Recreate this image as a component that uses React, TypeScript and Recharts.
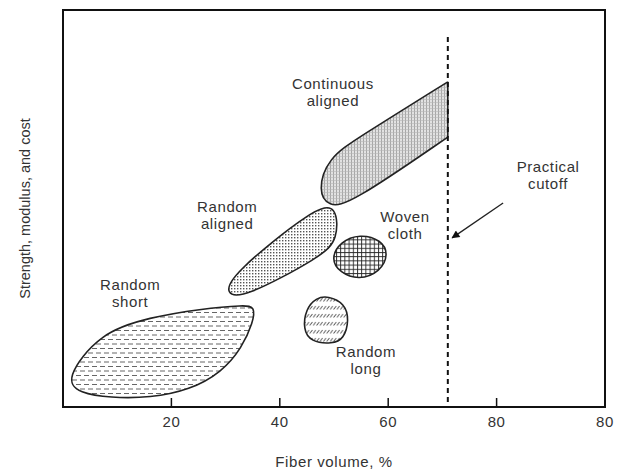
import { ScatterChart, Scatter, XAxis, YAxis, ReferenceArea } from "recharts";

const FONT = "'Liberation Sans', Arial, Helvetica, sans-serif";

// axis ticks (the last label really reads "80" in the source figure)
const xTicks = [20, 40, 60, 80, 100];
const xTickLabels = ["20", "40", "60", "80", "80"];
const tickMarks = [20, 40, 60, 80];

// blob outlines as B-spline control points [fiber volume %, relative property]
const randomShort = [
  [0.2, 6.8], [6.8, 18.8], [16.1, 22.6], [25.3, 24.7], [33.6, 25.7], [35.4, 25.2],
  [35.1, 21.4], [33.0, 14.9], [29.3, 8.8], [23.4, 4.3], [16.1, 2.3], [8.7, 2.3], [3.1, 3.5],
];
const randomAligned = [
  [46.5, 50.4], [50.6, 50.9], [50.7, 42.1], [47.8, 38.0], [33.0, 27.2], [30.1, 28.5], [30.8, 33.0],
];
const continuousAligned = [
  [71, 81.9], [71, 81.9], [71, 81.9], [54.4, 67.8], [48.9, 62.7], [47.0, 54.5],
  [49.0, 50.4], [53.0, 51.1], [71, 68.0], [71, 68.0], [71, 68.0],
];
const wovenCloth = [
  [60.1, 38.5], [58.7, 42.1], [54.8, 43.6], [51.1, 41.6], [49.4, 37.3], [51.1, 33.8], [54.6, 32.0], [58.5, 34.0],
];
const randomLong = [
  [48.9, 28.0], [52.0, 26.1], [52.8, 21.9], [51.8, 17.1], [49.7, 15.9], [45.7, 16.4], [44.3, 19.6], [44.8, 24.7], [46.7, 27.5],
];

const cutoffLine = [[71, 93.2], [71, 0]];
const cutoffArrow = [[81.2, 51.4], [71.8, 42.6]];

const labelX = [49.8, 30.3, 63.1, 12.4, 55.9, 89.5];
const labelY = [79.3, 48.2, 45.7, 28.6, 11.7, 58.4];
const labelLines = [
  ["Continuous", "aligned"],
  ["Random", "aligned"],
  ["Woven", "cloth"],
  ["Random", "short"],
  ["Random", "long"],
  ["Practical", "cutoff"],
];

const toPts = (arr: number[][]) => arr.map(([x, y]) => ({ x, y }));

const blobs = [
  { key: "short", pts: randomShort, fill: "url(#patShort)" },
  { key: "aligned", pts: randomAligned, fill: "url(#patAligned)" },
  { key: "continuous", pts: continuousAligned, fill: "url(#patContinuous)" },
  { key: "woven", pts: wovenCloth, fill: "url(#patWoven)" },
  { key: "long", pts: randomLong, fill: "url(#patLong)" },
];

const labels = labelX.map((x, i) => ({ x, y: labelY[i], lines: labelLines[i] }));

const Empty = () => <g />;

const TickMark = (p: any) => (
  <line x1={p.cx} y1={p.cy} x2={p.cx} y2={p.cy - 9} stroke="#111" strokeWidth={1.5} />
);

const LabelText = (p: any) => {
  const lines: string[] = p.payload.lines;
  return (
    <text textAnchor="middle" fontFamily={FONT} fontSize={15} letterSpacing={0.6} fill="#333">
      {lines.map((l, i) => (
        <tspan key={i} x={p.cx} y={p.cy + (i - (lines.length - 1) / 2) * 17 + 5}>
          {l}
        </tspan>
      ))}
    </text>
  );
};

export default function App() {
  return (
    <div style={{ position: "absolute", left: 0, top: 0 }}>
      <ScatterChart width={624} height={470} margin={{ top: 10, right: 19, left: 0, bottom: 33 }}>
        <defs>
          <pattern id="patShort" patternUnits="userSpaceOnUse" width="8" height="9">
            <rect width="8" height="9" fill="#fff" />
            <line x1="0" y1="2" x2="5" y2="2" stroke="#555" strokeWidth="0.9" />
            <line x1="4" y1="6.5" x2="8" y2="6.5" stroke="#555" strokeWidth="0.9" />
            <line x1="0" y1="6.5" x2="1" y2="6.5" stroke="#555" strokeWidth="0.9" />
          </pattern>
          <pattern id="patAligned" patternUnits="userSpaceOnUse" width="3" height="3">
            <rect width="3" height="3" fill="#fff" />
            <rect width="1.4" height="1.4" fill="#555" />
          </pattern>
          <pattern id="patContinuous" patternUnits="userSpaceOnUse" width="3" height="3">
            <rect width="3" height="3" fill="#e2e2e2" />
            <rect width="0.8" height="3" fill="#999" />
            <rect width="3" height="0.6" fill="#b5b5b5" />
          </pattern>
          <pattern id="patWoven" patternUnits="userSpaceOnUse" width="4.2" height="4.2">
            <rect width="4.2" height="4.2" fill="#fff" />
            <line x1="0" y1="0.5" x2="4.2" y2="0.5" stroke="#222" strokeWidth="0.9" />
            <line x1="0.5" y1="0" x2="0.5" y2="4.2" stroke="#222" strokeWidth="0.9" />
          </pattern>
          <pattern id="patLong" patternUnits="userSpaceOnUse" width="3.4" height="8">
            <rect width="3.4" height="8" fill="#fff" />
            <line x1="0.4" y1="5.5" x2="3" y2="2" stroke="#555" strokeWidth="0.9" />
          </pattern>
          <marker id="arrowHead" viewBox="0 0 10 10" refX="9" refY="5" markerWidth="11" markerHeight="8"
            markerUnits="userSpaceOnUse" orient="auto">
            <path d="M0,0 L10,5 L0,10 z" fill="#111" />
          </marker>
        </defs>

        <XAxis
          type="number"
          dataKey="x"
          domain={[0, 100]}
          allowDataOverflow
          ticks={xTicks}
          interval={0}
          tickFormatter={(v: number) => xTickLabels[xTicks.indexOf(v)]}
          axisLine={false}
          tickLine={false}
          tickSize={6}
          tickMargin={3}
          height={30}
          tick={{ fill: "#333", fontSize: 15, fontFamily: FONT, letterSpacing: 0.6 }}
          label={{
            value: "Fiber volume, %",
            position: "bottom",
            offset: 19,
            style: { fill: "#333", fontSize: 15, fontFamily: FONT, letterSpacing: 0.6 },
          }}
        />
        <YAxis
          type="number"
          dataKey="y"
          domain={[0, 100]}
          allowDataOverflow
          width={63}
          tick={false}
          tickLine={false}
          axisLine={false}
          label={{
            value: "Strength, modulus, and cost",
            angle: -90,
            position: "insideLeft",
            offset: 25,
            style: { textAnchor: "middle", fill: "#333", fontSize: 14.5, fontFamily: FONT },
          }}
        />

        <ReferenceArea x1={0} x2={100} y1={0} y2={100} fill="none" stroke="#111" strokeWidth={2} />

        {blobs.map((b) => (
          <Scatter
            key={b.key}
            data={toPts(b.pts)}
            line={{ stroke: "#222", strokeWidth: 1.6, fill: b.fill }}
            lineType="joint"
            lineJointType="basisClosed"
            shape={Empty}
            legendType="none"
            isAnimationActive={false}
          />
        ))}

        <Scatter
          data={toPts(cutoffLine)}
          line={{ stroke: "#111", strokeWidth: 2, strokeDasharray: "5 4" }}
          lineType="joint"
          lineJointType="linear"
          shape={Empty}
          isAnimationActive={false}
        />
        <Scatter
          data={toPts(cutoffArrow)}
          line={{ stroke: "#222", strokeWidth: 1.3, markerEnd: "url(#arrowHead)" }}
          lineType="joint"
          lineJointType="linear"
          shape={Empty}
          isAnimationActive={false}
        />
        <Scatter data={tickMarks.map((x) => ({ x, y: 0 }))} shape={TickMark} isAnimationActive={false} />
        <Scatter data={labels} shape={LabelText} isAnimationActive={false} />
      </ScatterChart>
    </div>
  );
}
